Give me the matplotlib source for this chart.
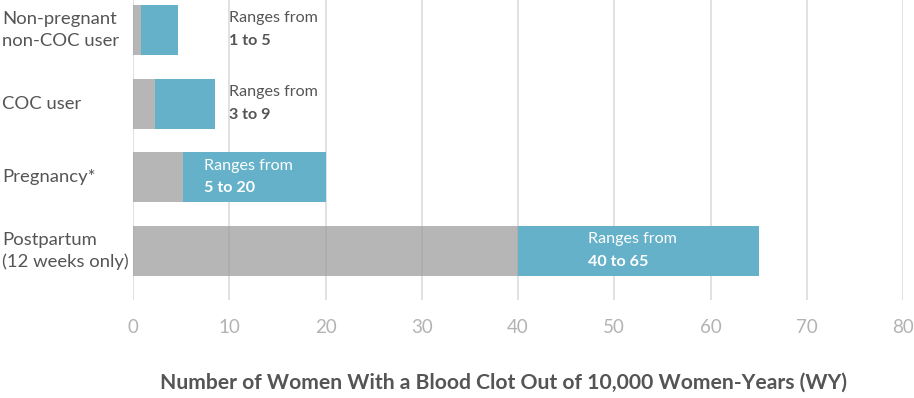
import matplotlib
matplotlib.use("Agg")
import matplotlib.pyplot as plt
import matplotlib.transforms as mtransforms

categories = ["Non-pregnant\nnon-COC user", "COC user", "Pregnancy*", "Postpartum\n(12 weeks only)"]
low_values = [0.85, 2.25, 5.2, 40]
high_values = [4.7, 8.5, 20, 65]
range_labels = ["1 to 5", "3 to 9", "5 to 20", "40 to 65"]
label_x = [10, 10, 7.4, 47.3]
label_inside = [False, False, True, True]
xticks = [0, 10, 20, 30, 40, 50, 60, 70, 80]
xlabel = "Number of Women With a Blood Clot Out of 10,000 Women-Years (WY)"

GRAY = "#b6b6b6"
BLUE = "#64b1c9"
TEXT = "#555555"

W, H = 914, 398
fig = plt.figure(figsize=(W / 100, H / 100), dpi=100)
ax = fig.add_axes([133 / W, (H - 300) / H, (903 - 133) / W, 300 / H])

ypos = list(range(len(categories)))
bar_h = 0.68
ax.barh(ypos, low_values, height=bar_h, color=GRAY, zorder=1)
ax.barh(ypos, [h - l for h, l in zip(high_values, low_values)], left=low_values,
        height=bar_h, color=BLUE, zorder=3)

ax.set_xlim(0, 80)
ax.set_ylim(3.665, -0.407)
ax.set_xticks(xticks)
ax.set_xticklabels([str(t) for t in xticks], fontsize=13.5, color="#b3b3b3", family="Lato")
ax.tick_params(axis="x", length=0, pad=14)
ax.set_yticks([])
for s in ax.spines.values():
    s.set_visible(False)
ax.grid(axis="x", color="#e9e9e9", linewidth=1.2, zorder=0)
ax.set_axisbelow(True)
for t in xticks:
    ax.axvline(t, color="black", alpha=0.05, linewidth=1.2, zorder=2)

trans = mtransforms.blended_transform_factory(fig.transFigure, ax.transData)
for y, cat in zip(ypos, categories):
    ax.text(2 / W, y, cat, transform=trans, ha="left", va="center", fontsize=13.3,
            color=TEXT, family="Lato", linespacing=1.45)

for y, lab, lx, inside in zip(ypos, range_labels, label_x, label_inside):
    col = "white" if inside else TEXT
    ax.text(lx, y - 0.16, "Ranges from", ha="left", va="center", fontsize=11.6,
            color=col, family="Lato", zorder=5)
    ax.text(lx, y + 0.15, lab, ha="left", va="center", fontsize=11.6,
            color=col, family="Lato", fontweight="bold", zorder=5)

fig.text(503 / W, 1 - 383 / H, xlabel, ha="center", va="center",
         fontsize=15.2, color=TEXT, family="Lato", fontweight="bold")

fig.savefig("out.png", dpi=100)
